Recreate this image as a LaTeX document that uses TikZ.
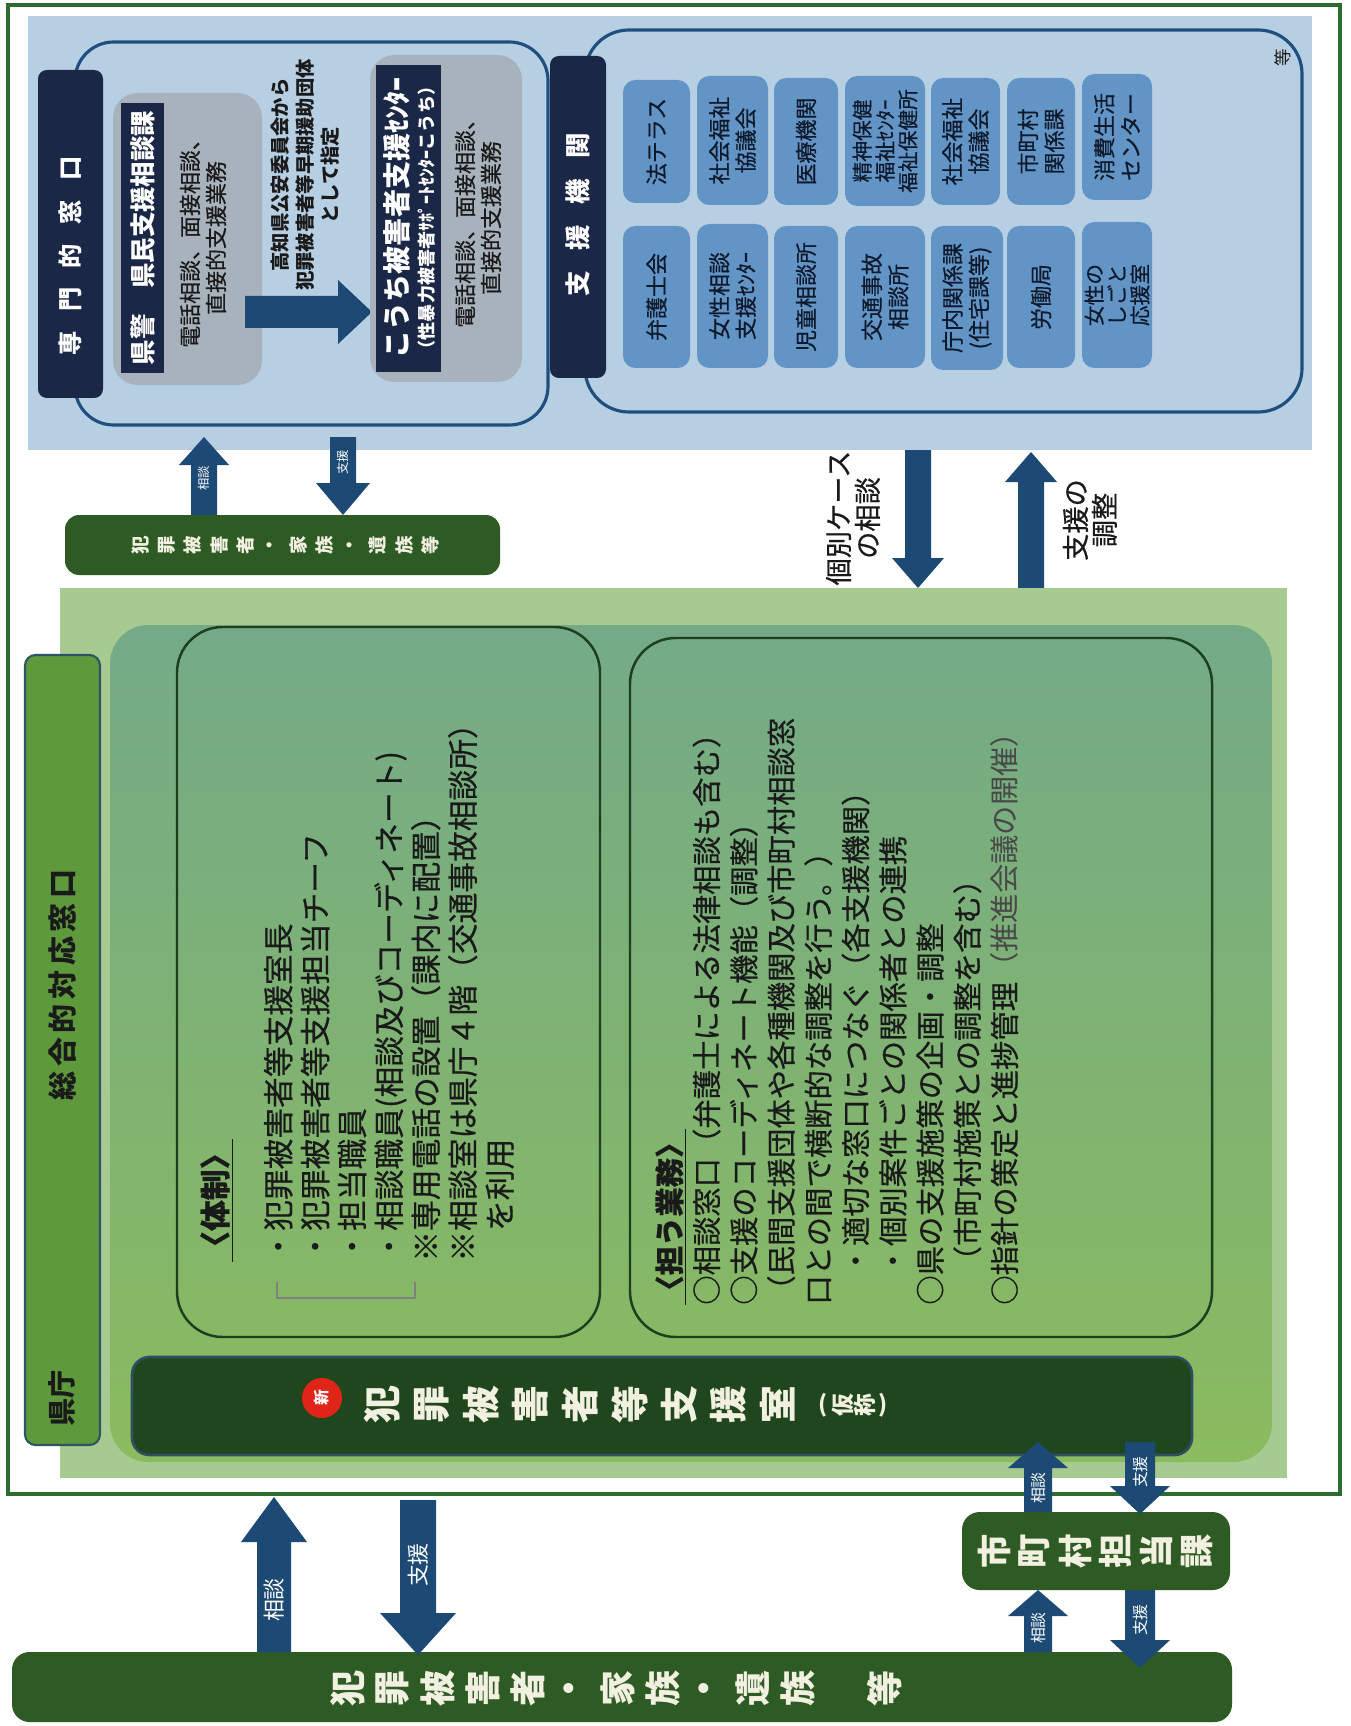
\documentclass[tikz,border=0pt]{standalone}
\usepackage{fontspec}
\setmainfont{Noto Sans CJK JP}
\newfontfamily\jpm{Noto Sans CJK JP}[FakeBold=0.5]
\definecolor{frameg}{HTML}{2E6B2F}
\definecolor{bluep}{HTML}{B7CFE3}
\definecolor{navy}{HTML}{1B2747}
\definecolor{bline}{HTML}{1F4F7E}
\definecolor{grayb}{HTML}{A8B2BC}
\definecolor{smallb}{HTML}{6394C6}
\definecolor{kboxtxt}{HTML}{0E1A2C}
\definecolor{arrowc}{HTML}{1D4A75}
\definecolor{lgreen}{HTML}{A7CA90}
\definecolor{mgreenT}{HTML}{74AA88}
\definecolor{mgreenB}{HTML}{8ABB5E}
\definecolor{boxline}{HTML}{1E3F1E}
\definecolor{strip}{HTML}{5E9A3C}
\definecolor{stripline}{HTML}{2B5566}
\definecolor{darkbar}{HTML}{1F461D}
\definecolor{darkbarline}{HTML}{2E4F63}
\definecolor{botbar}{HTML}{2E5B24}
\definecolor{txtdark}{HTML}{1A1A1A}
\definecolor{cream}{HTML}{F2F0E0}
\definecolor{newred}{HTML}{E02418}
\newcommand{\fsz}[2]{\fontsize{#1pt}{#2pt}\selectfont}
\newcommand{\arrUp}[6]{\fill[arrowc] ({#1-#4},#2) -- ({#1-#4},{#3+#6}) -- ({#1-#5},{#3+#6}) -- (#1,#3) -- ({#1+#5},{#3+#6}) -- ({#1+#4},{#3+#6}) -- ({#1+#4},#2) -- cycle;}
\newcommand{\arrDn}[6]{\fill[arrowc] ({#1-#4},#2) -- ({#1-#4},{#3-#6}) -- ({#1-#5},{#3-#6}) -- (#1,#3) -- ({#1+#5},{#3-#6}) -- ({#1+#4},{#3-#6}) -- ({#1+#4},#2) -- cycle;}
\newcommand{\kbox}[7]{\fill[smallb, rounded corners=7pt] (#1,#2) rectangle (#3,#4); \node[rot, text=kboxtxt, font=#7] (#6) at ({(#1+#3)/2},{(#2+#4)/2}) {#5};}
\newcommand{\tate}[6]{\foreach \ch [count=\i from 0] in {#6} {\node[rot, #5] (#1\i) at ({#2+\i*#4},#3) {\ch};}}
\begin{document}
\begin{tikzpicture}[x=0.02cm,y=-0.02cm,
  rot/.style={rotate=90, inner sep=0pt, align=center}]
\useasboundingbox (0,0) rectangle (1351,1726);
\fill[white] (0,0) rectangle (1351,1726);

% ===== top panel =====
\fill[bluep] (28,16) rectangle (1312,450);
\draw[bline, line width=1.8pt, rounded corners=22pt] (75,42) rectangle (548,425);
\draw[bline, line width=1.8pt, rounded corners=25pt] (585,30) rectangle (1302,412);
\fill[navy, rounded corners=5pt] (38,70) rectangle (103,398);
\node[rot, text=white, font=\fsz{13.8}{15}\bfseries] (senmon) at (70,256) {専\hspace{.8em}門\hspace{.8em}的\hspace{.8em}窓\hspace{.8em}口};

\fill[grayb, rounded corners=14pt] (113,93) rectangle (262,385);
\fill[navy] (121,103) rectangle (164,373);
\node[rot, text=white, font=\fsz{14.5}{17}\bfseries] (kenkei) at (142.5,238) {県警\hspace{1em}県民支援相談課};
\node[rot, text=txtdark, font=\jpm\fsz{12.5}{14.8}] (k1txt) at (203,238) {電話相談、面接相談、\\直接的支援業務};

\fill[arrowc] (245,296) -- (338,296) -- (338,280) -- (372,312) -- (338,344) -- (338,328) -- (245,328) -- cycle;
\node[rot, text=txtdark, font=\fsz{11}{14.2}\bfseries] (kochiTxt) at (305,175) {高知県公安委員会から\\犯罪被害者等早期援助団体\\として指定};

\fill[grayb, rounded corners=14pt] (370,55) rectangle (522,382);
\fill[navy] (376,65) rectangle (441,372);
\node[rot, text=white, font=\fsz{16}{18}\bfseries] (kochiName) at (397,218) {こうち被害者支援ｾﾝﾀｰ};
\node[rot, text=white, font=\fsz{10.3}{12}\bfseries] (kochiSub) at (427,218) {（性暴力被害者ｻﾎﾟｰﾄｾﾝﾀｰこうち）};
\node[rot, text=txtdark, font=\jpm\fsz{12.5}{14.8}] (k2txt) at (478,218) {電話相談、面接相談、\\直接的支援業務};

\fill[navy, rounded corners=5pt] (550,56) rectangle (606,378);
\node[rot, text=white, font=\fsz{14.5}{17}\bfseries] (shienkikan) at (578,215) {支\hspace{.8em}援\hspace{.8em}機\hspace{.8em}関};
\node[rot, text=txtdark, font=\fsz{10}{12}] (tou) at (1283,58) {等};

\kbox{623}{80}{690}{203}{法テラス}{b11}{\jpm\fsz{12.5}{15}}
\kbox{697}{76}{768}{205}{社会福祉\\協議会}{b12}{\jpm\fsz{12.5}{15}}
\kbox{774}{78}{838}{205}{医療機関}{b13}{\jpm\fsz{12.5}{15}}
\kbox{845}{76}{925}{206}{精神保健\\福祉ｾﾝﾀｰ\\福祉保健所}{b14}{\jpm\fsz{11.8}{13}}
\kbox{931}{78}{1000}{205}{社会福祉\\協議会}{b15}{\jpm\fsz{12.5}{15}}
\kbox{1007}{78}{1075}{205}{市町村\\関係課}{b16}{\jpm\fsz{12.5}{15}}
\kbox{1082}{74}{1152}{200}{消費生活\\センター}{b17}{\jpm\fsz{12.5}{15}}
\kbox{623}{226}{690}{368}{弁護士会}{b21}{\jpm\fsz{12.5}{15}}
\kbox{697}{224}{768}{368}{女性相談\\支援ｾﾝﾀｰ}{b22}{\jpm\fsz{12.5}{15}}
\kbox{774}{226}{838}{368}{児童相談所}{b23}{\jpm\fsz{12.5}{15}}
\kbox{845}{226}{925}{368}{交通事故\\相談所}{b24}{\jpm\fsz{12.5}{15}}
\kbox{931}{226}{1003}{370}{庁内関係課\\(住宅課等)}{b25}{\jpm\fsz{12.5}{15}}
\kbox{1007}{226}{1075}{368}{労働局}{b26}{\jpm\fsz{12.5}{15}}
\kbox{1082}{222}{1152}{368}{女性の\\しごと\\応援室}{b27}{\jpm\fsz{11.8}{13}}

% ===== arrows below blue panel =====
\arrUp{204}{515}{437}{13}{25}{28}
\arrDn{343}{437}{515}{13}{27}{32}
\node[rot, text=white, font=\fsz{7}{8}] (a1) at (204,478) {相談};
\node[rot, text=white, font=\fsz{7}{8}] (a2) at (343,462) {支援};
\fill[botbar, rounded corners=8pt] (65,515) rectangle (500,575);
\tate{sb}{140}{545}{26.4}{text=cream, font=\fsz{10.5}{11}\bfseries}{犯,罪,被,害,者,・,家,族,・,遺,族,等}

\arrDn{918}{450}{588}{13}{26}{30}
\arrUp{1031}{588}{452}{13}{26}{30}
\node[rot, text=txtdark, font=\jpm\fsz{15.5}{16.5}] (kobetsu) at (853,518) {個別ケース\\の相談};
\node[rot, text=txtdark, font=\jpm\fsz{15.5}{16.5}] (chosei) at (1090,520) {支援の\\調整};

% ===== green section =====
\fill[lgreen] (60,588) rectangle (1287,1478);
\shade[top color=mgreenT, bottom color=mgreenB, rounded corners=22pt] (110,625) rectangle (1272,1462);
\filldraw[fill=strip, draw=stripline, line width=1.2pt, rounded corners=6pt] (25,655) rectangle (100,1445);
\node[rot, text=txtdark, font=\fsz{16.5}{18}\bfseries] (sogo) at (62,985) {総\hspace{.16em}合\hspace{.16em}的\hspace{.16em}対\hspace{.16em}応\hspace{.16em}窓\hspace{.16em}口};
\node[rot, text=txtdark, font=\fsz{16}{18}\bfseries] (kencho) at (62,1398) {県庁};

\draw[boxline, line width=1.4pt, rounded corners=26pt] (177,627) rectangle (600,1337);
\draw[boxline, line width=1.4pt, rounded corners=26pt] (630,638) rectangle (1212,1337);

\node[rot, anchor=north west, align=left, text=txtdark, font=\jpm\fsz{17.5}{21}] (taisei) at (200,1262) {%
{\bfseries\underline{〈体制〉}}\\[15pt]
・犯罪被害者等支援室長\\
・犯罪被害者等支援担当チーフ\\
・担当職員\\
・相談職員(相談及びコーディネート)\\
※専用電話の設置（課内に配置）\\
※相談室は県庁４階（交通事故相談所）\\
　を利用};
\draw[gray, line width=0.6pt] (277,1282) -- (277,1298) -- (415,1298) -- (415,1282);

\node[rot, anchor=north west, align=left, text=txtdark, font=\jpm\fsz{16.7}{21.2}] (ninau) at (655,1305) {%
{\bfseries\underline{〈担う業務〉}}\\
○相談窓口（弁護士による法律相談も含む）\\
○支援のコーディネート機能（調整）\\
（民間支援団体や各種機関及び市町村相談窓\\
口との間で横断的な調整を行う。）\\
　・適切な窓口につなぐ（各支援機関）\\
　・個別案件ごとの関係者との連携\\
○県の支援施策の企画・調整\\
　（市町村施策との調整を含む）\\
○指針の策定と進捗管理{\rmfamily\color{txtdark!80}（推進会議の開催）}};

\filldraw[fill=darkbar, draw=darkbarline, line width=1.5pt, rounded corners=10pt] (132,1357) rectangle (1192,1455);
\node[circle, fill=newred, minimum size=0.8cm, inner sep=0pt, rotate=90, text=white, font=\fsz{9}{10}\bfseries] (shin) at (322,1398) {新};
\tate{db}{382}{1405}{49.5}{text=cream, font=\fsz{21.5}{22}\bfseries}{犯,罪,被,害,者,等,支,援,室}
\node[text=cream, font=\fsz{13}{14}\bfseries, inner sep=0pt] (kp1) at (823,1405) {(};
\tate{kk}{843}{1405}{22}{text=cream, font=\fsz{13}{14}\bfseries}{仮,称}
\node[text=cream, font=\fsz{13}{14}\bfseries, inner sep=0pt] (kp2) at (883,1405) {)};

% ===== frame =====
\draw[frameg, line width=2.8pt] (8,5) rectangle (1340,1494);

% ===== bottom =====
\fill[botbar, rounded corners=10pt] (12,1652) rectangle (1232,1722);
\tate{bb}{348}{1688}{45}{text=cream, font=\fsz{20.5}{21}\bfseries}{犯,罪,被,害,者,・,家,族,・,遺,族}
\node[rot, text=cream, font=\fsz{20.5}{21}\bfseries] (bbtou) at (885,1688) {等};

\arrUp{274}{1652}{1497}{17}{33}{45}
\arrDn{418}{1500}{1655}{18}{38}{42}
\node[rot, text=white, font=\fsz{12.5}{14}] (a3) at (274,1600) {相談};
\node[rot, text=white, font=\fsz{12.5}{14}] (a4) at (418,1565) {支援};

\fill[botbar, rounded corners=10pt] (962,1512) rectangle (1230,1590);
\tate{sc}{994}{1551}{40.5}{text=cream, font=\fsz{19.5}{20}\bfseries}{市,町,村,担,当,課}

\arrUp{1038}{1512}{1442}{14}{30}{26}
\arrDn{1140}{1442}{1514}{15}{30}{28}
\arrUp{1038}{1652}{1590}{14}{30}{26}
\arrDn{1140}{1590}{1668}{15}{30}{28}
\node[rot, text=white, font=\fsz{9}{10}] (a5) at (1038,1488) {相談};
\node[rot, text=white, font=\fsz{9}{10}] (a6) at (1140,1472) {支援};
\node[rot, text=white, font=\fsz{9}{10}] (a7) at (1038,1628) {相談};
\node[rot, text=white, font=\fsz{9}{10}] (a8) at (1140,1620) {支援};
\end{tikzpicture}
\end{document}
